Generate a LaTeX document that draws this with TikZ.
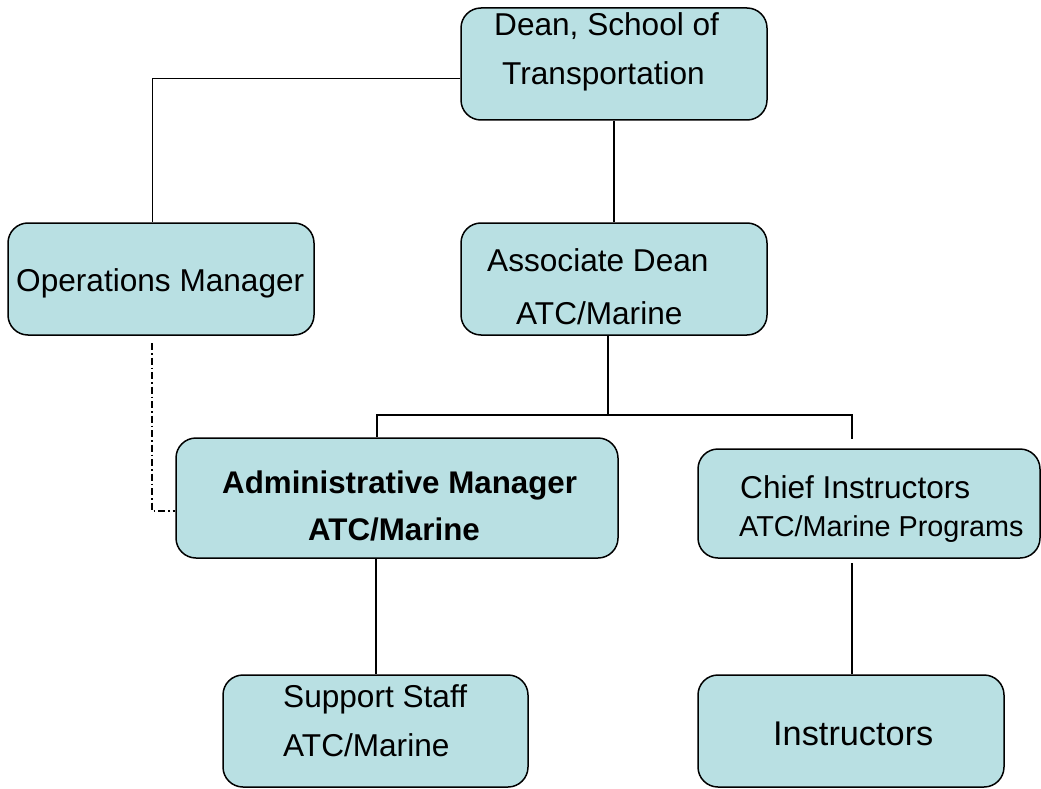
\documentclass[tikz,border=0pt]{standalone}
\usepackage{fontspec}
\setmainfont{Liberation Sans}
\usepackage{tikz}

\definecolor{boxblue}{RGB}{185,224,227}
\tikzset{
  orgbox/.style={draw, fill=boxblue, line width=1.5pt, rounded corners=20pt, inner sep=0pt},
  lbl/.style={anchor=base west, inner sep=0pt, font=\fontsize{31.6}{38}\selectfont},
  boldlbl/.style={lbl, font=\fontsize{31.3}{38}\selectfont\bfseries},
  link/.style={line width=2pt},
  thinlink/.style={line width=1pt},
  dotlink/.style={line width=1.5pt, dash pattern=on 7pt off 3pt on 1.5pt off 3pt}
}

\begin{document}
\begin{tikzpicture}[x=1pt,y=-1pt]
    \useasboundingbox (0,0) rectangle (1041,789);

    \node[orgbox, minimum width=306pt, minimum height=112pt] (dean) at (614,64) {};
    \node[orgbox, minimum width=306pt, minimum height=112pt] (ops) at (161,279) {};
    \node[orgbox, minimum width=306pt, minimum height=112pt] (assoc) at (614,279) {};
    \node[orgbox, minimum width=442pt, minimum height=120pt] (admin) at (397,498) {};
    \node[orgbox, minimum width=342pt, minimum height=109pt] (chief) at (869,503.5) {};
    \node[orgbox, minimum width=305pt, minimum height=112pt] (support) at (375.5,731) {};
    \node[orgbox, minimum width=306pt, minimum height=112pt] (instr) at (851,731) {};

    \node[lbl] (deantxt) at (494,36) {Dean, School of};
    \node[lbl] (deantxttwo) at (502,85) {Transportation};
    \node[lbl] (opstxt) at (16,291) {Operations Manager};
    \node[lbl] (assoctxt) at (487,271) {Associate Dean};
    \node[lbl] (assoctxttwo) at (516,324) {ATC/Marine};
    \node[boldlbl] (admintxt) at (222,493) {Administrative Manager};
    \node[boldlbl] (admintxttwo) at (308,540) {ATC/Marine};
    \node[lbl] (chieftxt) at (740,498) {Chief Instructors};
    \node[lbl, font=\fontsize{28.8}{34}\selectfont] (chieftxttwo) at (739,536) {ATC/Marine Programs};
    \node[lbl] (supptxt) at (283,707) {Support Staff};
    \node[lbl] (supptxttwo) at (283,756) {ATC/Marine};
    \node[lbl, font=\fontsize{34.3}{40}\selectfont] (instrtxt) at (773,745) {Instructors};

    \coordinate (bus) at (608,415);
    \coordinate (busleft) at (377,415);
    \coordinate (busright) at (852,415);
    \coordinate (chiefin) at (852,439);
    \coordinate (chiefout) at (852,563);
    \coordinate (opsout) at (152,343);

    \draw[thinlink] ([yshift=-15pt]dean.west) -| ([xshift=-9pt]ops.north);
    \draw[link] (dean.south) -- (assoc.north);
    \draw[link] (assoc.south -| bus) -- (bus);
    \draw[link] (admin.north -| busleft) |- (busright) -- (chiefin);
    \draw[link] (admin.south -| support.north) -- (support.north);
    \draw[link] (chiefout) -- (chiefout |- instr.north);
    \draw[dotlink] (opsout) |- ([yshift=-13pt]admin.west);
\end{tikzpicture}
\end{document}
